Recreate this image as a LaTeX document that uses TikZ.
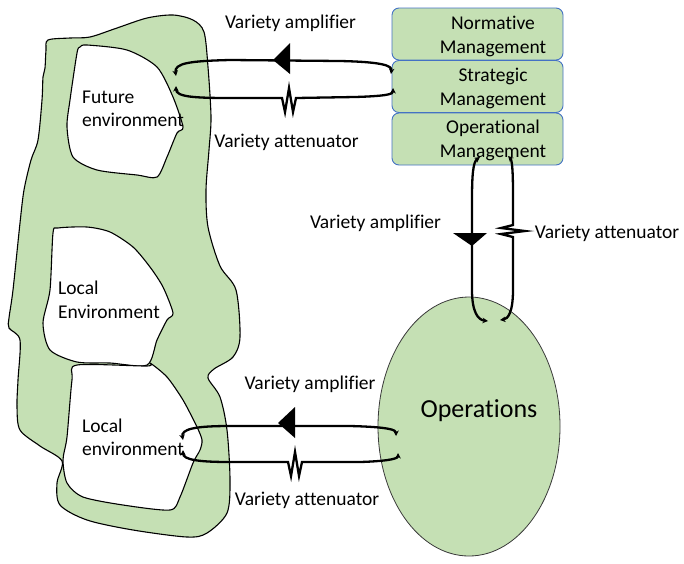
\documentclass[tikz,border=0pt]{standalone}
\usepackage{fontspec}
\setmainfont{Carlito}[Ligatures=NoCommon]
\usetikzlibrary{arrows.meta,shapes.geometric}
\definecolor{leafgreen}{HTML}{C5E0B4}
\definecolor{boxblue}{HTML}{4472C4}
\definecolor{rimgray}{HTML}{3A3A3A}
\begin{document}
\begin{tikzpicture}[x=1pt,y=-1pt,
  lbl/.style={inner sep=0pt, font=\fontsize{19.5}{23.5}\selectfont},
  envlbl/.style={lbl, align=left, anchor=west},
  mgmt/.style={draw=boxblue, line width=0.9pt, fill=leafgreen, rounded corners=7pt,
    minimum width=171pt, minimum height=52pt, inner sep=0pt},
  loopline/.style={line width=2.3pt, line join=miter,
    {Stealth[length=5.5pt,width=5.5pt]}-{Stealth[length=5.5pt,width=5.5pt]}},
  region/.style={draw=black, line width=1.1pt},
  amptri/.style={fill=black},
]
\useasboundingbox (0,0) rectangle (684,563);

% --- environment: green outer region with three white sub-environments
\draw[region, fill=leafgreen] plot[smooth cycle, tension=0.5] coordinates {
  (48,40) (70,38) (90,37) (117,28) (147,18) (173,15) (193,20) (204,32)
  (208,67) (211,117) (209,150) (206,190) (208,227) (220,266) (236,290)
  (240,337) (233,357) (214,369) (208,378) (220,397) (227,430) (230,480)
  (227,513) (207,533) (187,537) (133,530) (87,520) (60,505) (57,483)
  (62,461) (40,446) (20,430) (17,407) (18,380) (20,340) (9,328) (9,318)
  (13,290) (20,223) (24,190) (31,160) (38,140) (42,100) (43,77) (45,68) (46,50)};
\draw[region, fill=white] plot[smooth cycle, tension=0.45] coordinates {
  (80,47) (87,45) (127,50) (157,67) (173,97) (183,127) (177,133) (167,157)
  (157,177) (137,175) (97,170) (73,157) (67,127) (70,100) (77,53)};
\draw[region, fill=white] plot[smooth cycle, tension=0.45] coordinates {
  (58,228) (87,227) (110,232) (133,247) (150,267) (163,287) (173,313)
  (167,320) (157,340) (147,365) (110,363) (77,362) (50,350) (43,323)
  (50,290) (53,233)};
\draw[region, fill=white] plot[smooth cycle, tension=0.45] coordinates {
  (77,365) (147,366) (150,363) (167,377) (183,400) (197,427) (202,440)
  (200,450) (193,463) (180,497) (170,510) (123,505) (83,497) (67,483)
  (63,460) (67,437) (72,380)};

\node[envlbl] (futenv) at (82,108.7) {Future\\environment};
\node[envlbl] (locenvA) at (58,299.6) {Local\\Environment};
\node[envlbl] (locenvB) at (82,437.4) {Local\\environment};

% --- management levels
\node[mgmt] (normative) at (477.5,34) {};
\node[mgmt] (strategic) at (477.5,86.5) {};
\node[mgmt] (operational) at (477.5,139) {};
\node[lbl, align=center] (normtxt) at (493,36.5) {Normative\\Management};
\node[lbl, align=center] (strattxt) at (493,88.5) {Strategic\\Management};
\node[lbl, align=center] (opertxt) at (493,140.5) {Operational\\Management};

% --- operations
\node[ellipse, draw=rimgray, line width=0.8pt, fill=leafgreen, inner sep=0pt,
  minimum width=182pt, minimum height=259pt] (ops) at (469,426.5) {};
\node[inner sep=0pt, font=\fontsize{26}{30}\selectfont] (opstxt) at (479,411) {Operations};

% --- connector end points
\coordinate (fa1) at (176,76);  \coordinate (fa2) at (391,74);
\coordinate (fb1) at (176,86);  \coordinate (fb2) at (393,88);
\coordinate (va1) at (480,157); \coordinate (va2) at (488,321);
\coordinate (vb1) at (508,156); \coordinate (vb2) at (500,320);
\coordinate (la1) at (183,440); \coordinate (la2) at (396,436);
\coordinate (lb1) at (183,450); \coordinate (lb2) at (398,453);

% future environment <-> strategic management
\draw[loopline] (fa1) .. controls (174,63) and (190,61) .. (230,60) -- (340,61)
  .. controls (385,62) and (392,66) .. (fa2);
\fill[amptri] (273,60) -- (290,43) -- (290,74) -- cycle;
\draw[loopline] (fb1) .. controls (176,97) and (195,98) .. (230,98) -- (282,98)
  -- (285,112) -- (289,88) -- (293,112) -- (296,98) -- (355,97)
  .. controls (388,96) and (393,94) .. (fb2);

% operational management <-> operations
\draw[loopline] (va1) .. controls (473,162) and (472,175) .. (472,200) -- (472,290)
  .. controls (472,312) and (478,320) .. (va2);
\fill[amptri] (453,233) -- (487,233) -- (472,246) -- cycle;
\draw[loopline] (vb1) .. controls (512,160) and (513,170) .. (513,195) -- (513,225)
  -- (501,228) -- (525,231) -- (501,234) -- (513,237) -- (513,290)
  .. controls (513,312) and (508,319) .. (vb2);

% local environment <-> operations
\draw[loopline] (la1) .. controls (181,429) and (195,426) .. (230,426) -- (350,426)
  .. controls (390,427) and (396,430) .. (la2);
\fill[amptri] (278,423) -- (295,407) -- (295,438) -- cycle;
\draw[loopline] (lb1) .. controls (183,460) and (200,462) .. (230,462) -- (288,462)
  -- (291,476) -- (295,452) -- (299,476) -- (302,462) -- (360,462)
  .. controls (392,461) and (398,458) .. (lb2);

% --- labels
\node[lbl, anchor=base] (amptop) at (290.5,28.5) {Variety amplifier};
\node[lbl, anchor=base] (atttop) at (286.5,147.5) {Variety attenuator};
\node[lbl, anchor=base] (ampmid) at (375.5,228.5) {Variety amplifier};
\node[lbl, anchor=base] (attmid) at (607,238.5) {Variety attenuator};
\node[lbl, anchor=base] (ampbot) at (310,389.5) {Variety amplifier};
\node[lbl, anchor=base] (attbot) at (307,505.5) {Variety attenuator};
\end{tikzpicture}
\end{document}
